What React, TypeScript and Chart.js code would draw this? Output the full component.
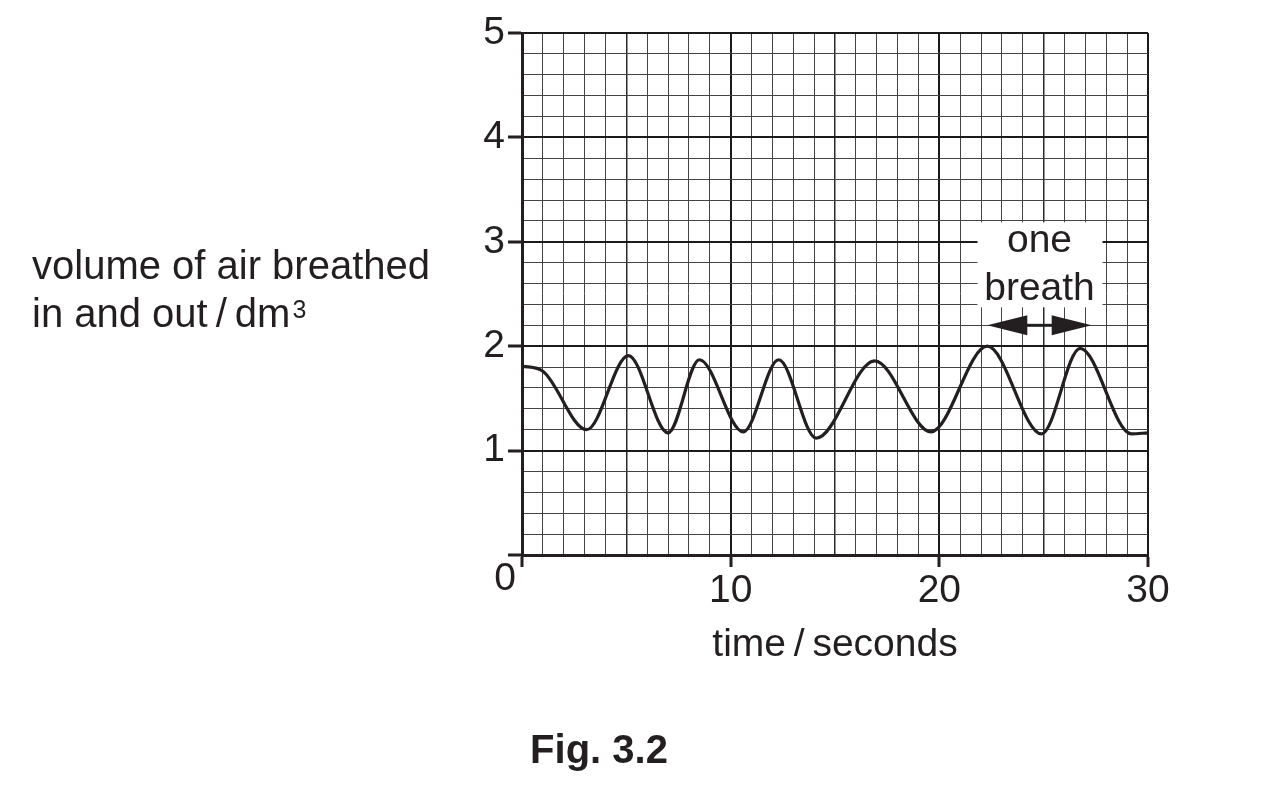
import { useEffect, useRef } from "react";
import { Chart, registerables } from "chart.js";

Chart.register(...registerables);

// ---- data ----
const timeSeconds = [0, 1.0, 3.1, 5.1, 7.0, 8.5, 10.6, 12.3, 14.1, 16.9, 19.6, 22.3, 24.9, 26.75, 29.2, 30];
const volumeDm3 = [1.81, 1.76, 1.2, 1.91, 1.17, 1.87, 1.18, 1.87, 1.12, 1.86, 1.18, 2.0, 1.16, 1.98, 1.16, 1.17];
const xTickLabels = [10, 20, 30];
const yTickLabels = [1, 2, 3, 4, 5];
const originLabel = "0";
const xTitle = "time\u2009/\u2009seconds";
const yTitleLines = ["volume of air breathed", "in and out\u2009/\u2009dm"];
const yTitleSup = "3";
const figCaption = "Fig. 3.2";
const annotationLines = ["one", "breath"];
const breathSpan = [22.3, 27.3];
const breathArrowLevel = 2.2;

const FONT = '"Liberation Sans", Arial, Helvetica, sans-serif';
const INK = "#231f20";

const near = (v: number, step: number) => Math.abs(v / step - Math.round(v / step)) < 1e-6;

const overlayPlugin = {
  id: "overlay",
  afterDraw(chart: any) {
    const { ctx } = chart;
    const x = chart.scales.x;
    const y = chart.scales.y;
    ctx.save();
    ctx.fillStyle = INK;
    // vertical axis title (horizontal text, left side)
    ctx.font = `40px ${FONT}`;
    ctx.textAlign = "left";
    ctx.textBaseline = "alphabetic";
    ctx.fillText(yTitleLines[0], 32, 279);
    ctx.fillText(yTitleLines[1], 32, 327);
    const w = ctx.measureText(yTitleLines[1]).width;
    ctx.font = `25px ${FONT}`;
    ctx.fillText(yTitleSup, 32 + w + 2, 318);

    // origin label
    ctx.font = `39px ${FONT}`;
    ctx.textAlign = "center";
    ctx.textBaseline = "middle";
    ctx.fillText(originLabel, x.getPixelForValue(0) - 17, y.getPixelForValue(0) + 24);

    // "one breath" annotation
    const x0 = x.getPixelForValue(breathSpan[0]);
    const x1 = x.getPixelForValue(breathSpan[1]);
    const cx = (x0 + x1) / 2;
    const ay = y.getPixelForValue(breathArrowLevel);
    ctx.fillStyle = "#ffffff";
    ctx.fillRect(cx - 62, ay - 103, 125, 85);
    ctx.fillStyle = INK;
    ctx.font = `39px ${FONT}`;
    ctx.textAlign = "center";
    ctx.textBaseline = "alphabetic";
    ctx.fillText(annotationLines[0], cx, ay - 73);
    ctx.fillText(annotationLines[1], cx, ay - 25);

    // double-headed arrow
    const head = 40;
    const half = 10;
    ctx.strokeStyle = INK;
    ctx.lineWidth = 3;
    ctx.beginPath();
    ctx.moveTo(x0 + head - 2, ay);
    ctx.lineTo(x1 - head + 2, ay);
    ctx.stroke();
    ctx.beginPath();
    ctx.moveTo(x0, ay);
    ctx.lineTo(x0 + head, ay - half);
    ctx.lineTo(x0 + head, ay + half);
    ctx.closePath();
    ctx.fill();
    ctx.beginPath();
    ctx.moveTo(x1, ay);
    ctx.lineTo(x1 - head, ay - half);
    ctx.lineTo(x1 - head, ay + half);
    ctx.closePath();
    ctx.fill();
    ctx.restore();
  },
};

export default function App() {
  const ref = useRef<HTMLCanvasElement>(null);

  useEffect(() => {
    if (!ref.current) return;
    Chart.defaults.font.family = FONT;
    const points = timeSeconds.map((t, i) => ({ x: t, y: volumeDm3[i] }));

    const xGridColor = (c: any) => {
      const v = c.tick ? c.tick.value : 0;
      if (near(v, 10)) return "#1a1a1a";
      if (near(v, 5)) return "#2a2a2a";
      return "#444444";
    };
    const xGridWidth = (c: any) => {
      const v = c.tick ? c.tick.value : 0;
      if (near(v, 10)) return 2;
      if (near(v, 5)) return 1.5;
      return 1;
    };
    const yGridColor = (c: any) => {
      const v = c.tick ? c.tick.value : 0;
      return near(v, 1) ? "#1a1a1a" : "#444444";
    };
    const yGridWidth = (c: any) => {
      const v = c.tick ? c.tick.value : 0;
      return near(v, 1) ? 2 : 1;
    };

    const chart = new Chart(ref.current, {
      type: "line",
      data: {
        datasets: [
          {
            data: points,
            borderColor: INK,
            borderWidth: 3.2,
            pointRadius: 0,
            fill: false,
            cubicInterpolationMode: "monotone",
          },
        ],
      },
      options: {
        animation: false,
        responsive: false,
        devicePixelRatio: 1,
        events: [],
        layout: { padding: { left: 50, right: 116, top: 33, bottom: 0 } },
        plugins: {
          legend: { display: false },
          tooltip: { enabled: false },
          title: {
            display: true,
            position: "bottom",
            text: figCaption,
            color: INK,
            font: { size: 40, weight: "bold", family: FONT, lineHeight: "46px" },
            padding: { top: 30, bottom: 33 },
          },
        },
        scales: {
          x: {
            type: "linear",
            min: 0,
            max: 30,
            afterFit: (s: any) => {
              s.height = 144;
            },
            ticks: {
              stepSize: 1,
              autoSkip: false,
              maxRotation: 0,
              minRotation: 0,
              padding: 1,
              color: INK,
              font: { size: 39, family: FONT, lineHeight: "46px" },
              callback: (v: any) => {
                const n = Number(v);
                const r = Math.round(n);
                return near(n, 1) && xTickLabels.includes(r) ? String(r) : "";
              },
            },
            grid: {
              color: xGridColor,
              lineWidth: xGridWidth,
              drawTicks: true,
              tickLength: 12,
              tickWidth: 3,
              tickColor: (c: any) => (c.tick && near(c.tick.value, 10) ? INK : "rgba(0,0,0,0)"),
            },
            border: { display: true, color: INK, width: 3 },
            title: {
              display: true,
              text: xTitle,
              color: INK,
              font: { size: 39, family: FONT, lineHeight: "46px" },
              padding: { top: 0, bottom: 31 },
            },
          },
          y: {
            type: "linear",
            min: 0,
            max: 5,
            afterFit: (s: any) => {
              s.width = 472;
            },
            ticks: {
              stepSize: 0.2,
              autoSkip: false,
              padding: 3,
              color: INK,
              font: { size: 39, family: FONT, lineHeight: "46px" },
              callback: (v: any) => {
                const n = Number(v);
                const r = Math.round(n);
                return near(n, 1) && yTickLabels.includes(r) ? String(r) : "";
              },
            },
            grid: {
              color: yGridColor,
              lineWidth: yGridWidth,
              drawTicks: true,
              tickLength: 14,
              tickWidth: 3,
              tickColor: (c: any) => (c.tick && near(c.tick.value, 1) ? INK : "rgba(0,0,0,0)"),
            },
            border: { display: true, color: INK, width: 3 },
          },
        },
      } as any,
      plugins: [overlayPlugin],
    });
    return () => chart.destroy();
  }, []);

  return (
    <div style={{ position: "fixed", left: 0, top: 0, width: 1264, height: 808, background: "#ffffff" }}>
      <canvas ref={ref} width={1264} height={808} style={{ display: "block", width: 1264, height: 808 }} />
    </div>
  );
}
